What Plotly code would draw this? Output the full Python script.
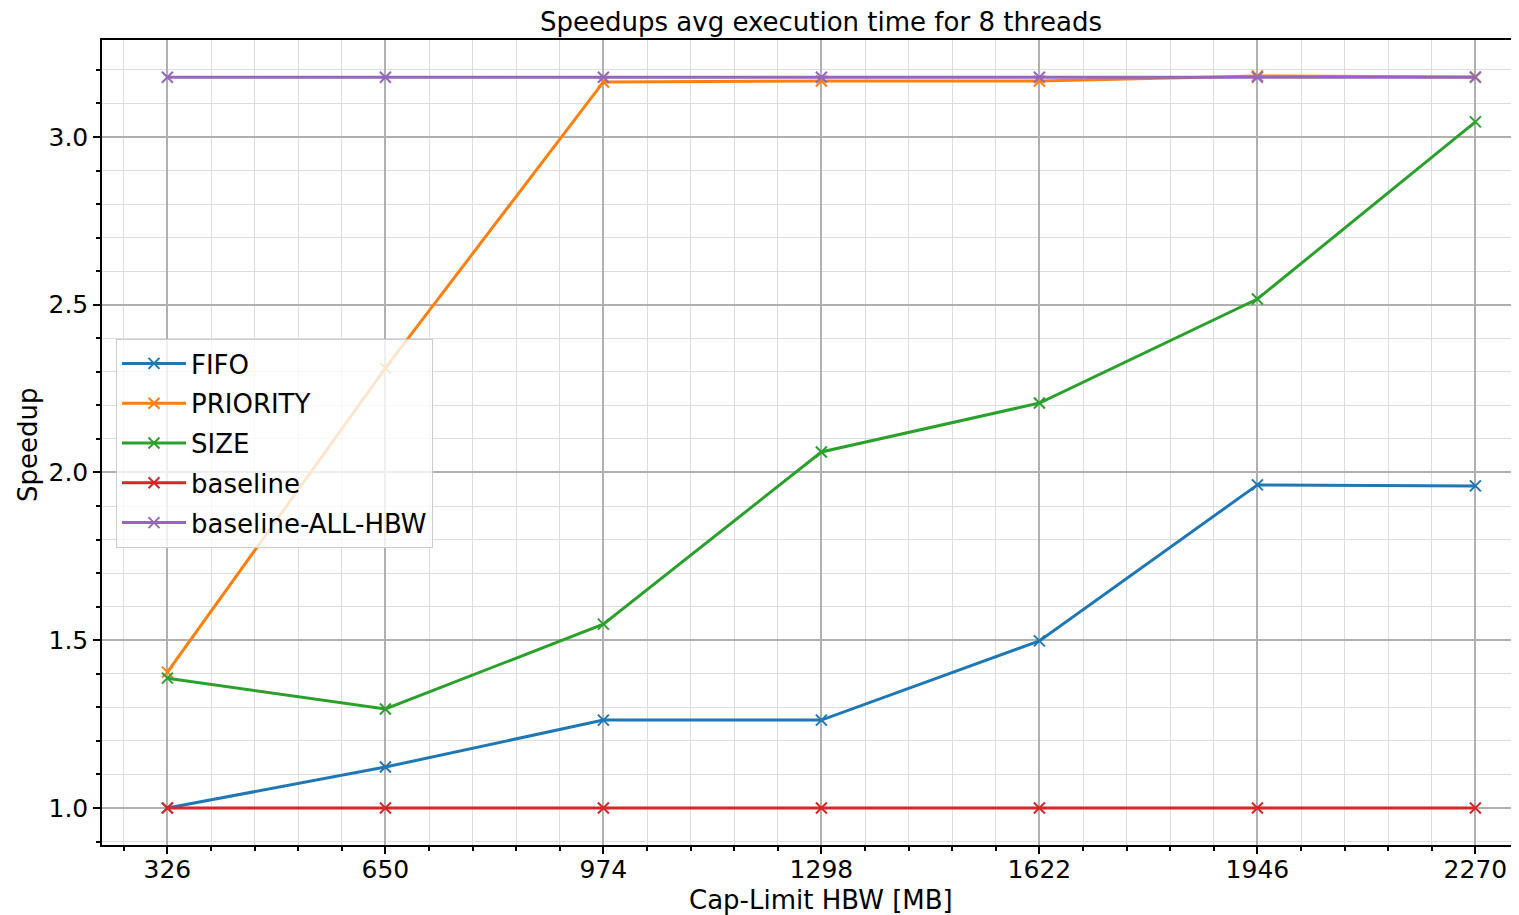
import plotly.graph_objects as go

caps = [326, 650, 974, 1298, 1622, 1946, 2270]
fifo = [1.0, 1.122, 1.262, 1.262, 1.498, 1.963, 1.960]
priority = [1.405, 2.311, 3.164, 3.167, 3.167, 3.182, 3.179]
size = [1.387, 1.295, 1.548, 2.061, 2.207, 2.517, 3.045]
baseline = [1.0, 1.0, 1.0, 1.0, 1.0, 1.0, 1.0]
all_hbw = [3.178, 3.178, 3.178, 3.178, 3.178, 3.178, 3.178]

series = [
    ("FIFO", fifo, "#1f77b4"),
    ("PRIORITY", priority, "#ff7f0e"),
    ("SIZE", size, "#2ca02c"),
    ("baseline", baseline, "#d62728"),
    ("baseline-ALL-HBW", all_hbw, "#9467bd"),
]

FONT = "DejaVu Sans"
OFF = 8  # page body margin
W, H = 1519 - OFF, 915 - OFF
PL, PR, PT, PB = 102 - OFF, 1518 - OFF, 40 - OFF, 845 - OFF  # plot area in figure px
L, R, T, B = PL, W - PR, PT, H - PB
PW, PH = PR - PL, PB - PT


def fx(sx):
    return (sx - OFF - PL) / PW


def fy(sy):
    return 1 - (sy - OFF - PT) / PH


fig = go.Figure()
for name, vals, col in series:
    fig.add_trace(go.Scatter(
        x=caps, y=vals, name=name, mode="lines+markers", legendgroup=name,
        line=dict(color=col, width=3),
        marker=dict(symbol="x-thin", size=11, line=dict(color=col, width=2), color=col),
    ))

# x range: matplotlib 5% margins; right part clipped at image edge
px_per_unit = 218 / 324.0
x0 = 326 - 0.05 * 1944
x1 = x0 + PW / px_per_unit

fig.update_layout(
    width=W, height=H,
    margin=dict(l=L, r=R, t=T, b=B, autoexpand=False),
    paper_bgcolor="white", plot_bgcolor="white",
    font=dict(family=FONT, size=24, color="#000000"),
    title=dict(text="Speedups avg execution time for 8 threads", x=(821 - OFF) / W, xanchor="center",
               y=1 - (22 - OFF) / H, yanchor="middle", font=dict(size=26)),
    showlegend=True,
    legend=dict(x=fx(116), y=fy(339), xanchor="left", yanchor="top",
                bgcolor="rgba(255,255,255,0.8)", bordercolor="#cccccc", borderwidth=1,
                font=dict(size=26), tracegroupgap=3, itemwidth=64),
    xaxis=dict(
        range=[x0, x1], tickvals=caps, ticktext=[str(c) for c in caps], automargin=False,
        showgrid=True, gridcolor="#b0b0b0", gridwidth=1.5,
        ticks="outside", ticklen=7, tickwidth=1.5, tickcolor="black",
        showline=True, linecolor="black", linewidth=1.5, mirror=True,
        zeroline=False, tickfont=dict(size=25), ticklabelstandoff=-6,
        minor=dict(dtick=64.8, tick0=326, showgrid=True, gridcolor="#dddddd", gridwidth=1,
                   ticks="outside", ticklen=4, tickcolor="black"),
    ),
    yaxis=dict(
        range=[0.8897, 3.289], tickvals=[1.0, 1.5, 2.0, 2.5, 3.0], ticktext=["1.0", "1.5", "2.0", "2.5", "3.0"],
        automargin=False,
        showgrid=True, gridcolor="#b0b0b0", gridwidth=1.5,
        ticks="outside", ticklen=7, tickwidth=1.5, tickcolor="black",
        showline=True, linecolor="black", linewidth=1.5, mirror=False,
        zeroline=False, tickfont=dict(size=25),
        minor=dict(dtick=0.1, tick0=1.0, showgrid=True, gridcolor="#dddddd", gridwidth=1,
                   ticks="outside", ticklen=4, tickcolor="black"),
    ),
)

fig.add_annotation(text="Cap-Limit HBW [MB]", xref="paper", yref="paper",
                   x=fx(821), y=fy(900),
                   xanchor="center", yanchor="middle", showarrow=False, font=dict(size=26))
fig.add_annotation(text="Speedup", xref="paper", yref="paper", textangle=-90,
                   x=fx(28), y=fy(445),
                   xanchor="center", yanchor="middle", showarrow=False, font=dict(size=26))

fig.write_html("out.html")
